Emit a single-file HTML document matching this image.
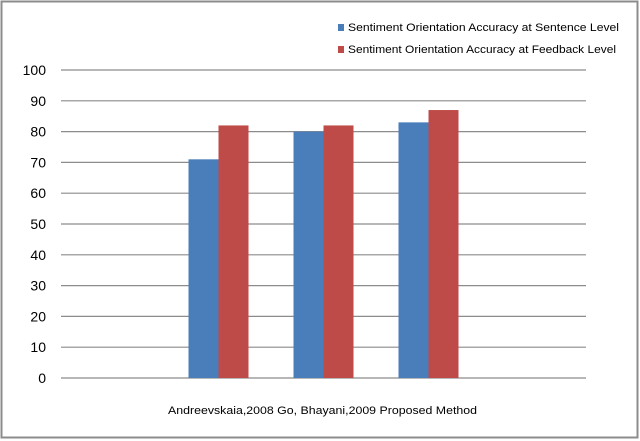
<!DOCTYPE html>
<html><head><meta charset="utf-8"><style>
html,body{margin:0;padding:0;background:#fff;width:640px;height:441px;overflow:hidden}
svg text{font-family:"Liberation Sans Narrow","Liberation Sans",sans-serif}
</style></head><body>
<svg id="chart" width="640" height="441" viewBox="0 0 640 441">
<rect x="1.5" y="1.5" width="636" height="436" fill="#fff" stroke="#8c8c8c" stroke-width="2"/>
<g id="grid"></g><g id="bars"></g><g id="ylabels"></g>
<g>
<rect x="338" y="24" width="6" height="7" fill="#4a7ebb"/>
<text x="348" y="31" font-size="11" fill="#000" textLength="271" lengthAdjust="spacingAndGlyphs">Sentiment Orientation Accuracy at  Sentence Level</text>
<rect x="338" y="46" width="6" height="7" fill="#be4b48"/>
<text x="348" y="53" font-size="11" fill="#000" textLength="268" lengthAdjust="spacingAndGlyphs">Sentiment Orientation Accuracy at Feedback Level</text>
</g>
<text x="168" y="414" font-size="11" fill="#000" textLength="309" lengthAdjust="spacingAndGlyphs">Andreevskaia,2008  Go, Bhayani,2009   Proposed Method</text>
</svg>
<script>
const categories = ["", "Andreevskaia,2008", "Go, Bhayani,2009", "Proposed Method", ""];
const sentenceValues = [null, 71, 80, 83, null];
const feedbackValues = [null, 82, 82, 87, null];
const yTicks = [0,10,20,30,40,50,60,70,80,90,100];
const NS="http://www.w3.org/2000/svg";
const x0=61,x1=586,y0=378,y1=70;
const band=(x1-x0)/categories.length;
function ys(v){return y0-(v/100)*(y0-y1);}
function xs(i){return x0+band*i+band/2;}
const grid=document.getElementById('grid'),yl=document.getElementById('ylabels'),bars=document.getElementById('bars');
yTicks.forEach(t=>{
 const l=document.createElementNS(NS,'line');
 
 
 l.setAttribute('x1',x0);l.setAttribute('x2',x1);l.setAttribute('y1',ys(t));l.setAttribute('y2',ys(t));
 l.setAttribute('stroke','#8c8c8c');l.setAttribute('stroke-width','1.2');
 grid.appendChild(l);
 const tx=document.createElementNS(NS,'text');
 
 
 tx.setAttribute('x',46);tx.setAttribute('y',ys(t)+5);tx.setAttribute('text-anchor','end');
 tx.setAttribute('font-size','14');tx.textContent=t;
 yl.appendChild(tx);
});
const bw=30;
function drawBar(v,i,off,color,name){
 if(v==null)return;
 const r=document.createElementNS(NS,'rect');
 
 
 r.setAttribute('x',xs(i)+off);r.setAttribute('width',bw);
 r.setAttribute('y',ys(v));r.setAttribute('height',ys(0)-ys(v));
 r.setAttribute('fill',color);
 bars.appendChild(r);
}
categories.forEach((c,i)=>{
 drawBar(sentenceValues[i],i,-bw,'#4a7ebb','bar-sentence-'+i);
 drawBar(feedbackValues[i],i,0,'#be4b48','bar-feedback-'+i);
});
</script>
</body></html>
